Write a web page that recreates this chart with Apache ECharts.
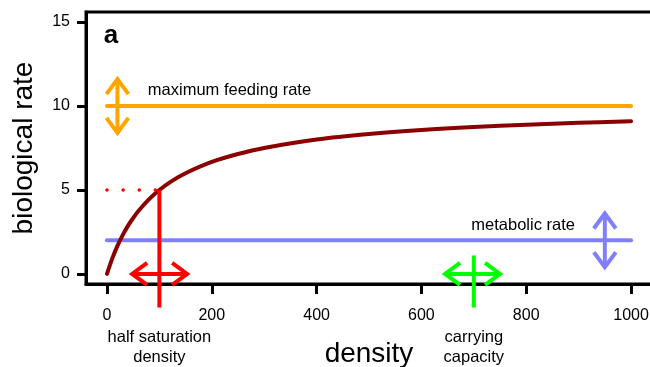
<!DOCTYPE html>
<html>
<head>
<meta charset="utf-8">
<script src="https://cdn.jsdelivr.net/npm/echarts@6/dist/echarts.min.js"></script>
<style>
  html, body { margin: 0; padding: 0; background: #fff; }
  #chart { width: 650px; height: 367px; }
</style>
</head>
<body>
<div id="chart"></div>
<script>
// Axis ticks
const densityTicks = [0, 200, 400, 600, 800, 1000];
const rateTicks = [0, 5, 10, 15];

// Feeding functional response (density -> biological rate)
const curveDensity = [0, 10, 20, 30, 40, 50, 60, 80, 100, 125, 150, 200, 250, 300, 400, 500, 600, 700, 800, 900, 1000];
const curveRate    = [0, 0.91, 1.67, 2.31, 2.86, 3.33, 3.75, 4.44, 5.0, 5.56, 6.0, 6.67, 7.14, 7.5, 8.0, 8.33, 8.57, 8.75, 8.89, 9.0, 9.09];

// Reference levels
const maxFeedingRate = 10;
const metabolicRate = 2;
const halfSaturation = 100;
const carryingCapacity = 700;

// Horizontal reference lines
const levelLines = [
  { name: 'maximum feeding rate', x0: 0, x1: 1000, y: maxFeedingRate, color: '#FFA500' },
  { name: 'metabolic rate', x0: 0, x1: 1000, y: metabolicRate, color: '#8080FF' }
];

// Double-headed arrows
const arrows = [
  { from: [20, 8.4], to: [20, 11.6], color: '#FFA500' },
  { from: [950, 0.4], to: [950, 3.6], color: '#8080FF' },
  { from: [48, 0], to: [153, 0], color: '#FF0000' },
  { from: [645, 0], to: [750, 0], color: '#00FF00' }
];

// Marker segments for the half saturation density and carrying capacity
const markerSegments = [
  { from: [0, 5], to: [halfSaturation, 5], color: '#FF0000', dotted: true },
  { from: [halfSaturation, 5], to: [halfSaturation, -2], color: '#FF0000' },
  { from: [carryingCapacity, 1.1], to: [carryingCapacity, -2], color: '#00FF00' }
];

// Text annotations anchored in data space
const annotations = [
  { text: 'maximum feeding rate', x: 78, y: 10.95, align: 'left' },
  { text: 'metabolic rate', x: 893, y: 2.9, align: 'right' },
  { text: 'half saturation\ndensity', x: halfSaturation, y: -4.35, align: 'center' },
  { text: 'carrying\ncapacity', x: carryingCapacity, y: -4.35, align: 'center' },
  { text: 'a', x: -6, y: 14.17, align: 'left', bold: true, size: 26 }
];

const FONT = '"Liberation Sans", Arial, Helvetica, sans-serif';
const chart = echarts.init(document.getElementById('chart'), null, { renderer: 'canvas' });

function segmentSeries(items, drawArrowHeads) {
  return {
    type: 'custom',
    coordinateSystem: 'cartesian2d',
    clip: false,
    data: items.map(s => [s.from[0], s.from[1], s.to[0], s.to[1]]),
    renderItem: function (params, api) {
      const item = items[params.dataIndex];
      const p0 = api.coord([api.value(0), api.value(1)]);
      const p1 = api.coord([api.value(2), api.value(3)]);
      const style = {
        stroke: item.color,
        lineWidth: item.dotted ? 3.5 : 4,
        lineCap: item.dotted ? 'round' : 'butt',
        lineDash: item.dotted ? [0.1, 16] : null,
        fill: null
      };
      const children = [{
        type: 'line',
        shape: { x1: p0[0], y1: p0[1], x2: p1[0], y2: p1[1] },
        style: style
      }];
      if (drawArrowHeads) {
        const dx = p1[0] - p0[0], dy = p1[1] - p0[1];
        const len = Math.hypot(dx, dy);
        const ux = dx / len, uy = dy / len;
        const along = 15, across = 11;
        [[p0, 1], [p1, -1]].forEach(([p, dir]) => {
          const bx = p[0] + ux * along * dir, by = p[1] + uy * along * dir;
          children.push({
            type: 'polyline',
            shape: { points: [[bx - uy * across, by + ux * across], [p[0], p[1]], [bx + uy * across, by - ux * across]] },
            style: { stroke: item.color, lineWidth: 4, fill: null, lineJoin: 'miter' }
          });
        });
      }
      return { type: 'group', children: children };
    },
    z: 5
  };
}

const axisLineStyle = { show: true, onZero: false, lineStyle: { color: '#000', width: 3 } };

const option = {
  animation: false,
  backgroundColor: '#ffffff',
  grid: {
    left: 86, top: 12, width: 566, height: 272,
    outerBoundsMode: 'none', containLabel: false,
    show: true, borderColor: '#000', borderWidth: 3, backgroundColor: 'transparent'
  },
  xAxis: {
    type: 'value', min: -40, max: 1040,
    name: 'density', nameLocation: 'middle', nameGap: 56,
    nameTextStyle: { fontFamily: FONT, fontSize: 28, color: '#000' },
    axisLine: axisLineStyle,
    splitLine: { show: false },
    axisTick: { show: true, customValues: densityTicks, length: 10, lineStyle: { color: '#000', width: 3 } },
    axisLabel: { customValues: densityTicks, margin: 24, fontFamily: FONT, fontSize: 16, color: '#000',
                 formatter: v => String(v) }
  },
  yAxis: {
    type: 'value', min: -0.6, max: 15.6,
    name: 'biological rate', nameLocation: 'middle', nameGap: 48,
    nameTextStyle: { fontFamily: FONT, fontSize: 28, color: '#000' },
    axisLine: axisLineStyle,
    splitLine: { show: false },
    axisTick: { show: true, customValues: rateTicks, length: 9, lineStyle: { color: '#000', width: 3 } },
    axisLabel: { customValues: rateTicks, margin: 16, fontFamily: FONT, fontSize: 16, color: '#000',
                 formatter: v => String(v) }
  },
  series: [
    {
      type: 'custom',
      coordinateSystem: 'cartesian2d',
      data: levelLines.map(l => [l.x0, l.x1, l.y]),
      renderItem: function (params, api) {
        const item = levelLines[params.dataIndex];
        const a = api.coord([api.value(0), api.value(2)]);
        const b = api.coord([api.value(1), api.value(2)]);
        return { type: 'line', shape: { x1: a[0], y1: a[1], x2: b[0], y2: b[1] },
                 style: { stroke: item.color, lineWidth: 4, lineCap: 'round' } };
      },
      z: 2
    },
    {
      type: 'line',
      data: curveDensity.map((d, i) => [d, curveRate[i]]),
      smooth: 0.35, symbol: 'none',
      lineStyle: { color: '#8B0000', width: 4, cap: 'round' },
      z: 3
    },
    segmentSeries(markerSegments, false),
    segmentSeries(arrows, true),
    {
      type: 'custom',
      coordinateSystem: 'cartesian2d',
      clip: false,
      data: annotations.map(a => [a.x, a.y]),
      renderItem: function (params, api) {
        const a = annotations[params.dataIndex];
        const p = api.coord([api.value(0), api.value(1)]);
        return {
          type: 'text',
          x: p[0], y: p[1],
          style: {
            text: a.text, align: a.align, verticalAlign: 'middle',
            font: (a.bold ? 'bold ' : '') + (a.size || 16.5) + 'px ' + FONT,
            fill: '#000', lineHeight: 20
          }
        };
      },
      z: 6
    }
  ]
};
chart.setOption(option);
</script>
</body>
</html>
